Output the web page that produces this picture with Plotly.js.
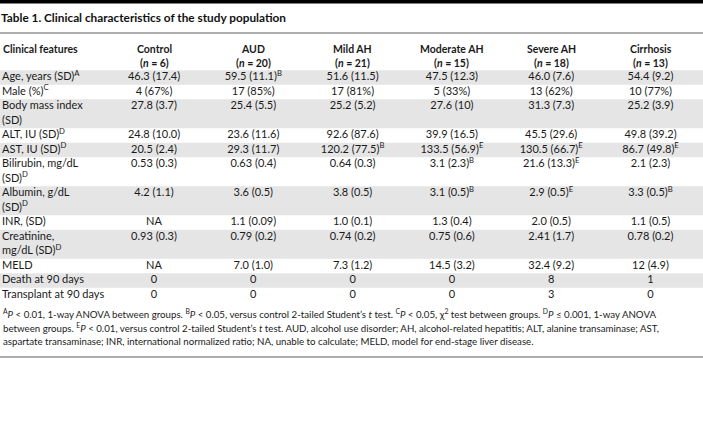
<!DOCTYPE html>
<html><head><meta charset="utf-8">
<script src="https://cdn.plot.ly/plotly-3.0.1.min.js"></script>
<style>html,body{margin:0;padding:0;background:#fff}#chart{width:703px;height:427px}</style>
</head><body><div id="chart"></div>
<script>
// ---------- data ----------
const tableTitle = 'Table 1. Clinical characteristics of the study population';
const featureHeader = 'Clinical features';
const groups = ['Control', 'AUD', 'Mild AH', 'Moderate AH', 'Severe AH', 'Cirrhosis'];
const groupN = [6, 20, 21, 15, 18, 13];
const features = [
  'Age, years (SD)<sup>A</sup>',
  'Male (%)<sup>C</sup>',
  'Body mass index<br>(SD)',
  'ALT, IU (SD)<sup>D</sup>',
  'AST, IU (SD)<sup>D</sup>',
  'Bilirubin, mg/dL<br>(SD)<sup>D</sup>',
  'Albumin, g/dL<br>(SD)<sup>D</sup>',
  'INR, (SD)',
  'Creatinine,<br>mg/dL (SD)<sup>D</sup>',
  'MELD',
  'Death at 90 days',
  'Transplant at 90 days'
];
const control    = ['46.3 (17.4)', '4 (67%)', '27.8 (3.7)', '24.8 (10.0)', '20.5 (2.4)', '0.53 (0.3)', '4.2 (1.1)', 'NA', '0.93 (0.3)', 'NA', '0', '0'];
const aud        = ['59.5 (11.1)<sup>B</sup>', '17 (85%)', '25.4 (5.5)', '23.6 (11.6)', '29.3 (11.7)', '0.63 (0.4)', '3.6 (0.5)', '1.1 (0.09)', '0.79 (0.2)', '7.0 (1.0)', '0', '0'];
const mildAH     = ['51.6 (11.5)', '17 (81%)', '25.2 (5.2)', '92.6 (87.6)', '120.2 (77.5)<sup>B</sup>', '0.64 (0.3)', '3.8 (0.5)', '1.0 (0.1)', '0.74 (0.2)', '7.3 (1.2)', '0', '0'];
const moderateAH = ['47.5 (12.3)', '5 (33%)', '27.6 (10)', '39.9 (16.5)', '133.5 (56.9)<sup>E</sup>', '3.1 (2.3)<sup>B</sup>', '3.1 (0.5)<sup>B</sup>', '1.3 (0.4)', '0.75 (0.6)', '14.5 (3.2)', '0', '0'];
const severeAH   = ['46.0 (7.6)', '13 (62%)', '31.3 (7.3)', '45.5 (29.6)', '130.5 (66.7)<sup>E</sup>', '21.6 (13.3)<sup>E</sup>', '2.9 (0.5)<sup>E</sup>', '2.0 (0.5)', '2.41 (1.7)', '32.4 (9.2)', '8', '3'];
const cirrhosis  = ['54.4 (9.2)', '10 (77%)', '25.2 (3.9)', '49.8 (39.2)', '86.7 (49.8)<sup>E</sup>', '2.1 (2.3)', '3.3 (0.5)<sup>B</sup>', '1.1 (0.5)', '0.78 (0.2)', '12 (4.9)', '1', '0'];
const footnoteLines = [
  '<sup>A</sup><i>P</i> &lt; 0.01, 1-way ANOVA between groups. <sup>B</sup><i>P</i> &lt; 0.05, versus control 2-tailed Student’s <i>t</i> test. <sup>C</sup><i>P</i> &lt; 0.05, χ<sup>2</sup> test between groups. <sup>D</sup><i>P</i> ≤ 0.001, 1-way ANOVA',
  'between groups. <sup>E</sup><i>P</i> &lt; 0.01, versus control 2-tailed Student’s <i>t</i> test. AUD, alcohol use disorder; AH, alcohol-related hepatitis; ALT, alanine transaminase; AST,',
  'aspartate transaminase; INR, international normalized ratio; NA, unable to calculate; MELD, model for end-stage liver disease.'
];
const columns = [control, aud, mildAH, moderateAH, severeAH, cirrhosis];

// ---------- layout constants ----------
const W = 703, H = 427;
const FONT = 'Lato, "Open Sans", sans-serif';
const TXT = '#1a1a1a';
const BAND = '#e5e5e5';
const RULE = '#5c5c5c';
const colX0 = 154, colStep = 99.3;         // pixel of first value column, column spacing
const labelPx = 2;                         // pixel of label column left edge
const bodyTop = 70.25, lineH = 14.5;       // pixel of first body row top, line height

// rows: line counts from the labels
const labelLines = features.map(f => f.split('<br>'));
const rowLines = labelLines.map(l => l.length);
const rowStart = [];
rowLines.reduce((acc, n, i) => { rowStart[i] = acc; return acc + n; }, 0);

const traces = columns.map((vals, gi) => ({
  type: 'scatter', mode: 'text',
  x: vals.map(() => gi), y: rowStart.map(s => s + 0.5), text: vals,
  textposition: 'middle center',
  textfont: {family: FONT, size: 11, color: TXT},
  hoverinfo: 'skip', cliponaxis: false, showlegend: false
}));
// label column, one text per label line
const labX = [], labY = [], labT = [];
labelLines.forEach((lines, i) => lines.forEach((t, k) => {
  labX.push((labelPx - colX0) / colStep); labY.push(rowStart[i] + k + 0.5); labT.push(t);
}));
traces.push({type: 'scatter', mode: 'text', x: labX, y: labY, text: labT, textposition: 'middle right',
  textfont: {family: FONT, size: 11, color: TXT}, hoverinfo: 'skip', cliponaxis: false, showlegend: false});

const shapes = [];
rowLines.forEach((n, i) => {
  if (i % 2 === 0) shapes.push({type: 'rect', xref: 'paper', yref: 'y', x0: 0, x1: 1,
    y0: rowStart[i], y1: rowStart[i] + n, fillcolor: BAND, line: {width: 0}, layer: 'below'});
});
// top bar and rules
shapes.push({type: 'rect', xref: 'paper', yref: 'paper', x0: 0, x1: 1, y0: 1, y1: 1 - 3.5 / H, fillcolor: '#000', line: {width: 0}});
shapes.push({type: 'line', xref: 'paper', yref: 'paper', x0: 0, x1: 1, y0: 1 - 33 / H, y1: 1 - 33 / H, line: {color: RULE, width: 1.2}});
shapes.push({type: 'line', xref: 'paper', yref: 'paper', x0: 0, x1: 1, y0: 1 - 357 / H, y1: 1 - 357 / H, line: {color: RULE, width: 1.2}});

const annotations = [];
const ann = (o) => annotations.push(Object.assign({showarrow: false, yanchor: 'middle',
  font: {family: FONT, size: 11, color: TXT}}, o));
ann({xref: 'paper', yref: 'y', x: 0, xshift: 1, y: -1.5, xanchor: 'left', text: '<b>' + featureHeader + '</b>',
  font: {family: FONT, size: 10.5, color: TXT}});
groups.forEach((g, gi) => {
  ann({xref: 'x', yref: 'y', x: gi, y: -1.5, xanchor: 'center', text: '<b>' + g + '</b>', font: {family: FONT, size: 10.5, color: TXT}});
  ann({xref: 'x', yref: 'y', x: gi, y: -0.5, xanchor: 'center', text: '<b>(<i>n</i> = ' + groupN[gi] + ')</b>', font: {family: FONT, size: 10.5, color: TXT}});
});
footnoteLines.forEach((t, k) => ann({xref: 'paper', yref: 'paper', x: 0, xshift: 1, y: 1 - (313 + 14 * k) / H,
  xanchor: 'left', text: t, font: {family: FONT, size: 9.7, color: TXT}}));

const layout = {
  width: W, height: H, margin: {l: 0, r: 0, t: 0, b: 0, pad: 0},
  paper_bgcolor: '#fff', plot_bgcolor: '#fff', showlegend: false,
  title: {text: '<b>' + tableTitle + '</b>', x: 0, xref: 'paper', xanchor: 'left', y: 1 - 18 / H, yref: 'paper', yanchor: 'middle',
    pad: {l: 1}, font: {family: FONT, size: 11.8, color: '#111'}},
  xaxis: {visible: false, range: [-colX0 / colStep, (W - colX0) / colStep], fixedrange: true},
  yaxis: {visible: false, range: [(H - bodyTop) / lineH, -bodyTop / lineH], fixedrange: true},
  shapes: shapes, annotations: annotations
};
Plotly.newPlot('chart', traces, layout, {displayModeBar: false, staticPlot: true});
</script>
</body></html>
